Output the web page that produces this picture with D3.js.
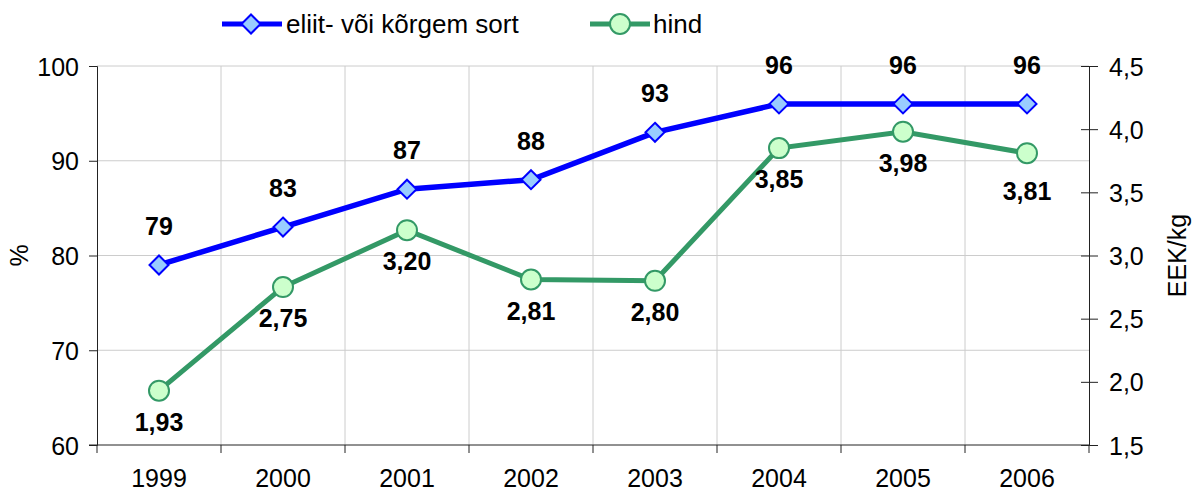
<!DOCTYPE html>
<html>
<head>
<meta charset="utf-8">
<script src="https://cdn.jsdelivr.net/npm/d3@7"></script>
<style>
  body { margin: 0; background: #fff; }
  svg text { font-family: "Liberation Sans", Arial, sans-serif; fill: #000; }
</style>
</head>
<body>
<div id="chart"></div>
<script>
// Data
let years = ["1999", "2000", "2001", "2002", "2003", "2004", "2005", "2006"];
let eliit = [79, 83, 87, 88, 93, 96, 96, 96];
let hind = [1.93, 2.75, 3.20, 2.81, 2.80, 3.85, 3.98, 3.81];
let leftTicks = [60, 70, 80, 90, 100];
let rightTicks = [1.5, 2.0, 2.5, 3.0, 3.5, 4.0, 4.5];
let seriesNames = ["eliit- või kõrgem sort", "hind"];

let width = 1192;
let height = 493;
let margin = ({top: 66, right: 103, bottom: 48, left: 97});
let fs = "25px";

let fmt = v => d3.format(".2f")(v).replace(".", ",");
let fmt1 = v => d3.format(".1f")(v).replace(".", ",");

let svg = d3.select("#chart")
    .append("svg")
    .attr("width", width)
    .attr("height", height)

// Scales
let xScale = d3.scaleBand()
    .domain(years)
    .range([margin.left, width - margin.right])

let yLeft = d3.scaleLinear()
    .domain([60, 100])
    .range([height - margin.bottom, margin.top])

let yRight = d3.scaleLinear()
    .domain([1.5, 4.5])
    .range([height - margin.bottom, margin.top])

let cx = d => xScale(d) + xScale.bandwidth() / 2

// Gridlines
svg.append("g")
    .selectAll("line")
    .data(leftTicks.slice(1))
    .enter()
    .append("line")
    .attr("x1", margin.left)
    .attr("x2", width - margin.right)
    .attr("y1", d => yLeft(d))
    .attr("y2", d => yLeft(d))
    .attr("stroke", "#cccccc")
    .attr("stroke-width", 1)

svg.append("g")
    .selectAll("line")
    .data(years.slice(1))
    .enter()
    .append("line")
    .attr("x1", d => xScale(d))
    .attr("x2", d => xScale(d))
    .attr("y1", margin.top)
    .attr("y2", height - margin.bottom)
    .attr("stroke", "#cccccc")
    .attr("stroke-width", 1)

// Left axis
let leftAxis = d3.axisLeft(yLeft).tickValues(leftTicks).tickSize(8).tickPadding(10)
let gl = svg.append("g")
    .attr("transform", "translate(" + margin.left + ",0)")
    .call(leftAxis)
gl.select(".domain").attr("stroke", "#222")
gl.selectAll(".tick line").attr("stroke", "#222")
gl.selectAll("text").style("font-size", fs).attr("dy", "0.36em")

// Right axis
let rightAxis = d3.axisRight(yRight).tickValues(rightTicks).tickSize(9).tickPadding(11).tickFormat(fmt1)
let gr = svg.append("g")
    .attr("transform", "translate(" + (width - margin.right) + ",0)")
    .call(rightAxis)
gr.select(".domain").attr("stroke", "#222")
gr.selectAll(".tick line").attr("stroke", "#222").attr("x1", -8)
gr.selectAll("text").style("font-size", fs).attr("dy", "0.36em")

// Bottom axis
let gx = svg.append("g")
    .attr("transform", "translate(0," + (height - margin.bottom) + ")")
gx.append("line")
    .attr("x1", margin.left - 8)
    .attr("x2", width - margin.right)
    .attr("stroke", "#222")
gx.selectAll(".btick")
    .data(years.concat(["end"]))
    .enter()
    .append("line")
    .attr("class", "btick")
    .attr("x1", (d, i) => i < years.length ? xScale(d) : width - margin.right)
    .attr("x2", (d, i) => i < years.length ? xScale(d) : width - margin.right)
    .attr("y1", 0)
    .attr("y2", 8)
    .attr("stroke", "#222")
gx.selectAll(".blabel")
    .data(years)
    .enter()
    .append("text")
    .attr("class", "blabel")
    .attr("x", d => cx(d))
    .attr("y", 42)
    .attr("text-anchor", "middle")
    .style("font-size", fs)
    .text(d => d)

// Axis titles
svg.append("text")
    .attr("transform", "translate(28," + (margin.top + (height - margin.bottom - margin.top) / 2) + ") rotate(-90)")
    .attr("text-anchor", "middle")
    .style("font-size", fs)
    .text("%")

svg.append("text")
    .attr("transform", "translate(1186," + (margin.top + (height - margin.bottom - margin.top) / 2) + ") rotate(-90)")
    .attr("text-anchor", "middle")
    .style("font-size", fs)
    .text("EEK/kg")

// Lines
let blueLine = d3.line()
    .x((d, i) => cx(years[i]))
    .y(d => yLeft(d))

let greenLine = d3.line()
    .x((d, i) => cx(years[i]))
    .y(d => yRight(d))

svg.append("path")
    .datum(hind)
    .attr("d", greenLine)
    .attr("fill", "none")
    .attr("stroke", "#339966")
    .attr("stroke-width", 5)

svg.append("path")
    .datum(eliit)
    .attr("d", blueLine)
    .attr("fill", "none")
    .attr("stroke", "#0000ff")
    .attr("stroke-width", 5.5)

let diamond = s => "M0," + (-s) + "L" + s + ",0L0," + s + "L" + (-s) + ",0Z"

svg.selectAll(".dia")
    .data(eliit)
    .enter()
    .append("path")
    .attr("class", "dia")
    .attr("d", diamond(9.5))
    .attr("transform", (d, i) => "translate(" + cx(years[i]) + "," + yLeft(d) + ")")
    .attr("fill", "#99ccff")
    .attr("stroke", "#0000ff")
    .attr("stroke-width", 2)

svg.selectAll(".dot")
    .data(hind)
    .enter()
    .append("circle")
    .attr("class", "dot")
    .attr("cx", (d, i) => cx(years[i]))
    .attr("cy", d => yRight(d))
    .attr("r", 10)
    .attr("fill", "#ccffcc")
    .attr("stroke", "#339966")
    .attr("stroke-width", 2)

// Data labels
svg.selectAll(".lblB")
    .data(eliit)
    .enter()
    .append("text")
    .attr("class", "lblB")
    .attr("x", (d, i) => cx(years[i]))
    .attr("y", d => yLeft(d) - 30)
    .attr("text-anchor", "middle")
    .style("font-size", fs)
    .style("font-weight", "bold")
    .text(d => d)

svg.selectAll(".lblG")
    .data(hind)
    .enter()
    .append("text")
    .attr("class", "lblG")
    .attr("x", (d, i) => cx(years[i]))
    .attr("y", (d, i) => yRight(d) + (i === hind.length - 1 ? 47 : 40))
    .attr("text-anchor", "middle")
    .style("font-size", fs)
    .style("font-weight", "bold")
    .text(d => fmt(d))

// Legend
let legend = svg.append("g")
legend.append("line")
    .attr("x1", 222).attr("x2", 282).attr("y1", 24).attr("y2", 24)
    .attr("stroke", "#0000ff").attr("stroke-width", 5)
legend.append("path")
    .attr("d", diamond(9.5))
    .attr("transform", "translate(251,24)")
    .attr("fill", "#99ccff").attr("stroke", "#0000ff").attr("stroke-width", 2)
legend.append("text")
    .attr("x", 286).attr("y", 33)
    .style("font-size", "26px")
    .text(seriesNames[0])

legend.append("line")
    .attr("x1", 590).attr("x2", 650).attr("y1", 24).attr("y2", 24)
    .attr("stroke", "#339966").attr("stroke-width", 5)
legend.append("circle")
    .attr("cx", 620).attr("cy", 24).attr("r", 10)
    .attr("fill", "#ccffcc").attr("stroke", "#339966").attr("stroke-width", 2)
legend.append("text")
    .attr("x", 653).attr("y", 33)
    .style("font-size", "26px")
    .text(seriesNames[1])
</script>
</body>
</html>
